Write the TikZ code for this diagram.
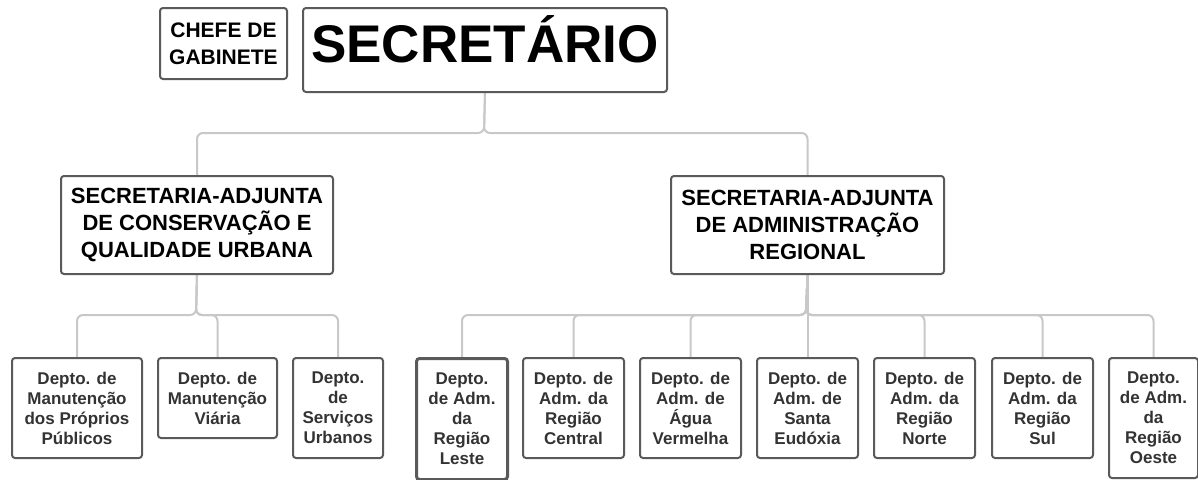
\documentclass[tikz,border=0pt]{standalone}
\usepackage{fontspec}
\usetikzlibrary{backgrounds}
\setmainfont{Liberation Sans}
\definecolor{boxline}{HTML}{5A5A5A}
\definecolor{connline}{HTML}{C8C8C8}
\definecolor{depttext}{HTML}{333333}
\begin{document}
\begin{tikzpicture}[x=1pt,y=-1pt,
  box/.style={draw=boxline, line width=2pt, rounded corners=3pt, fill=white, anchor=north west, inner sep=2pt, align=center},
  sabox/.style={box, font=\fontsize{22}{27}\selectfont\bfseries, text=black},
  dept/.style={box, font=\fontsize{17}{20}\selectfont\bfseries, text=depttext},
  conn/.style={draw=connline, line width=2pt, rounded corners=6pt}
]
\useasboundingbox (0,0) rectangle (1198,479);

% top
\node[box, minimum width=127pt, minimum height=71pt, font=\fontsize{21}{27}\selectfont\bfseries] (chefe) at (159,7) {CHEFE DE\\GABINETE};
\node[box, minimum width=364pt, minimum height=84pt] (sec) at (302,7) {};
\node[anchor=base, font=\fontsize{53}{60}\selectfont\bfseries, inner sep=0pt] (sectxt) at (485,62) {SECRETÁRIO};

% level 2
\node[sabox, minimum width=272pt, minimum height=98pt] (sa1) at (60,175) {SECRETARIA-ADJUNTA\\DE CONSERVAÇÃO E\\QUALIDADE URBANA};
\node[sabox, minimum width=273pt, minimum height=98pt] (sa2) at (670,175) {SECRETARIA-ADJUNTA\\DE ADMINISTRAÇÃO\\REGIONAL};

% level 3 left
\node[dept, minimum width=130pt, minimum height=100pt] (d1) at (11,357) {Depto. de\\Manutenção\\dos Próprios\\Públicos};
\node[dept, minimum width=119pt, minimum height=80pt] (d2) at (157,357) {Depto. de\\Manutenção\\Viária};
\node[dept, minimum width=90pt, minimum height=100pt] (d3) at (292,357) {Depto.\\de\\Serviços\\Urbanos};

% level 3 right
\node[dept, line width=3pt, minimum width=91pt, minimum height=121pt] (r1) at (415,357) {Depto.\\de Adm.\\da\\Região\\Leste};
\node[dept, minimum width=101pt, minimum height=100pt] (r2) at (522,357) {Depto. de\\Adm. da\\Região\\Central};
\node[dept, minimum width=101pt, minimum height=100pt] (r3) at (639,357) {Depto. de\\Adm. de\\Água\\Vermelha};
\node[dept, minimum width=101pt, minimum height=100pt] (r4) at (756,357) {Depto. de\\Adm. de\\Santa\\Eudóxia};
\node[dept, minimum width=101pt, minimum height=100pt] (r5) at (873,357) {Depto. de\\Adm. da\\Região\\Norte};
\node[dept, minimum width=101pt, minimum height=100pt] (r6) at (991,357) {Depto. de\\Adm. da\\Região\\Sul};
\node[dept, minimum width=89pt, minimum height=120pt] (r7) at (1108,357) {Depto.\\de Adm.\\da\\Região\\Oeste};

% junctions
\coordinate (j0) at (484,133);
\coordinate (j1) at (196,315);
\coordinate (j2) at (806,315);

\begin{pgfonlayer}{background}
\fill[white] (0,0) rectangle (1198,479);
\path[conn] (sec.south) -- (j0) -| (sa1.north);
\path[conn] (sec.south) -- (j0) -| (sa2.north);
\foreach \d in {d1,d2,d3}{\path[conn] (sa1.south) -- (j1) -| (\d.north);}
\foreach \d in {r1,r2,r3,r5,r6,r7}{\path[conn] (sa2.south) -- (j2) -| (\d.north);}
\path[conn] (sa2.south) -- (r4.north);
\end{pgfonlayer}
\end{tikzpicture}
\end{document}
